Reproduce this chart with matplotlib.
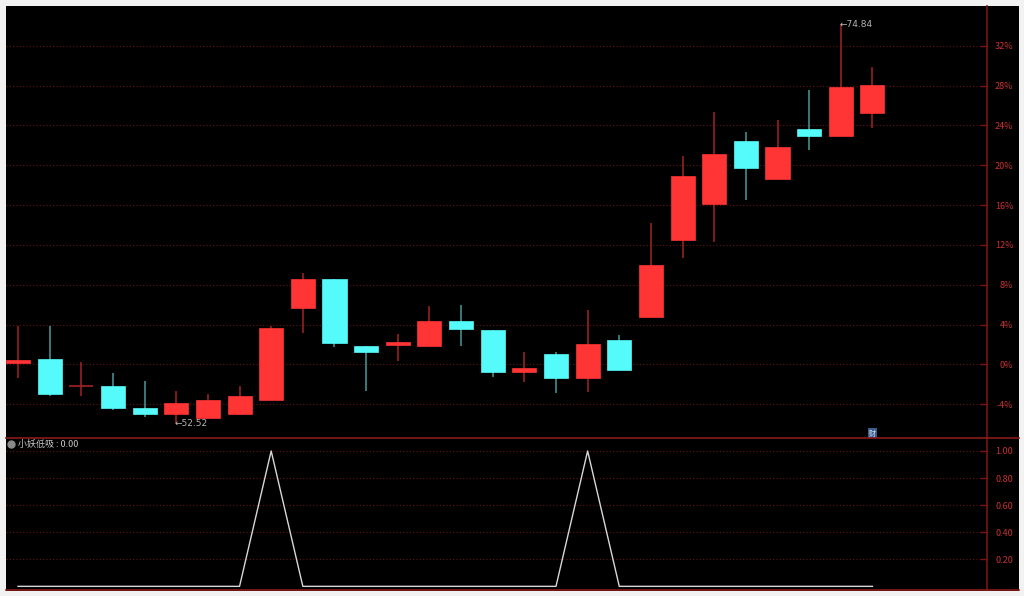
import numpy as np
import matplotlib
matplotlib.use('Agg')
import matplotlib.pyplot as plt

plt.rcParams['font.family'] = ['Noto Sans CJK SC', 'DejaVu Sans']

# 涨跌幅 (%) 每根K线: 开, 高, 低, 收
opens  = [0.1, 0.5, -2.2, -2.2, -4.4, -5.0, -5.4, -5.0, -3.6, 5.7,
          8.6, 1.8, 1.9, 1.8, 4.4, 3.5, -0.8, 1.0, -1.4, 2.4,
          4.8, 12.5, 16.1, 22.4, 18.6, 23.6, 22.9, 25.3]
highs  = [3.9, 3.9, 0.2, -0.9, -1.7, -2.7, -3.0, -2.2, 3.9, 9.2,
          8.6, 1.8, 3.0, 5.9, 6.0, 3.5, 1.2, 1.2, 5.5, 2.9,
          14.2, 20.9, 25.4, 23.3, 24.5, 27.6, 34.2, 29.9]
lows   = [-1.4, -3.2, -3.2, -4.6, -5.3, -5.9, -5.4, -5.0, -3.6, 3.1,
          1.7, -2.7, 0.3, 1.8, 1.8, -1.3, -1.8, -2.9, -2.8, -0.6,
          4.8, 10.7, 12.3, 16.5, 18.6, 21.5, 22.9, 23.7]
closes = [0.4, -3.0, -2.2, -4.4, -5.0, -3.9, -3.6, -3.2, 3.7, 8.6,
          2.1, 1.2, 2.2, 4.4, 3.6, -0.8, -0.4, -1.4, 2.0, -0.6,
          10.0, 18.9, 21.1, 19.7, 21.8, 22.9, 27.9, 28.1]
signal = [0, 0, 0, 0, 0, 0, 0, 0, 1, 0,
          0, 0, 0, 0, 0, 0, 0, 0, 1, 0,
          0, 0, 0, 0, 0, 0, 0, 0]
pct_ticks = [32, 28, 24, 20, 16, 12, 8, 4, 0, -4]
sig_ticks = [1.0, 0.8, 0.6, 0.4, 0.2]
low_label = '52.52'
high_label = '74.84'

UP = '#ff3535'
DOWN = '#55fbfb'
UP_WICK = '#a52222'
DOWN_WICK = '#4a9a9a'
GRID = '#641414'
AXIS = '#7a1414'
TXT = '#c83232'

W, H = 1024, 596
fig = plt.figure(figsize=(W / 100, H / 100), dpi=100, facecolor='#f2f2f2')
bg = fig.add_axes([6 / W, 5 / H, 1013 / W, 585 / H], zorder=-5)
bg.set_facecolor('black')
bg.set_axis_off()
bg.add_patch(plt.Rectangle((0, 0), 1, 1, transform=bg.transAxes, color='black'))

ax = fig.add_axes([6 / W, 1 - 438 / H, (987 - 6) / W, (438 - 6) / H])
ax2 = fig.add_axes([6 / W, 1 - 590 / H, (987 - 6) / W, (590 - 438) / H])

x = np.arange(len(opens))
for a in (ax, ax2):
    a.set_facecolor('black')
    a.set_xlim(-0.38, 30.62)
    for s in ('left', 'top', 'bottom'):
        a.spines[s].set_visible(False)
    a.spines['right'].set_color(AXIS)
    a.spines['right'].set_linewidth(1.2)
    a.set_xticks([])
    a.yaxis.tick_right()
    a.tick_params(axis='y', direction='in', length=5, width=1, color=AXIS,
                  labelcolor=TXT, labelsize=6.5, pad=19)

# K线
ax.set_ylim(-7.4, 36.0)
ax.set_yticks(pct_ticks)
ax.set_yticklabels([f'{t}%' for t in pct_ticks], ha='right')
for t in pct_ticks:
    ax.axhline(t, color=GRID, linestyle=(0, (1, 2)), linewidth=0.8, zorder=1)

bw = 0.76
for i in x:
    o, h, l, c = opens[i], highs[i], lows[i], closes[i]
    up = c >= o
    col = UP if up else DOWN
    wcol = UP_WICK if up else DOWN_WICK
    ax.vlines(i, l, h, color=wcol, linewidth=1.1, zorder=2)
    if abs(c - o) < 0.05:
        ax.hlines(o, i - bw / 2, i + bw / 2, color=UP_WICK, linewidth=1.2, zorder=3)
    else:
        ax.bar(i, abs(c - o), bottom=min(o, c), width=bw, color=col,
               edgecolor=col, linewidth=0.5, zorder=3)

imin = int(np.argmin(lows))
imax = int(np.argmax(highs))
ax.text(imin - 0.05, lows[imin] - 0.05, '\u2190' + low_label, color='#b4b4b4',
        fontsize=6.5, ha='left', va='center', family=['DejaVu Sans'], zorder=4)
ax.text(imax - 0.05, highs[imax] - 0.1, '\u2190' + high_label, color='#b4b4b4',
        fontsize=6.5, ha='left', va='center', family=['DejaVu Sans'], zorder=4)
ax.text(27, -6.95, '财', color='#d8e4f4', fontsize=5, ha='center', va='center',
        bbox=dict(boxstyle='square,pad=0.15', facecolor='#3c5c8c', edgecolor='none'),
        zorder=4)

# 指标
ax2.set_ylim(-0.027, 1.096)
ax2.set_yticks(sig_ticks)
ax2.set_yticklabels([f'{t:.2f}' for t in sig_ticks], ha='right')
for t in sig_ticks:
    ax2.axhline(t, color=GRID, linestyle=(0, (1, 2)), linewidth=0.8, zorder=1)
ax2.plot(x, signal, color='#d8d8d8', linewidth=1.0, zorder=3)
ax2.plot([0.0055], [0.96], 'o', color='#8a8a8a', markersize=5, transform=ax2.transAxes,
         clip_on=False)
ax2.text(0.0125, 0.96, '小妖低吸 : 0.00', color='#c8c8c8', fontsize=6.5,
         transform=ax2.transAxes, ha='left', va='center')

# 分隔线
fig.add_artist(plt.Line2D([6 / W, 1019 / W], [1 - 438 / H, 1 - 438 / H],
                          transform=fig.transFigure, color='#8a1a1a', linewidth=1.2))
fig.add_artist(plt.Line2D([6 / W, 1019 / W], [1 - 590 / H, 1 - 590 / H],
                          transform=fig.transFigure, color='#8a1a1a', linewidth=1.2))

fig.savefig('out.png', dpi=100, facecolor=fig.get_facecolor())
